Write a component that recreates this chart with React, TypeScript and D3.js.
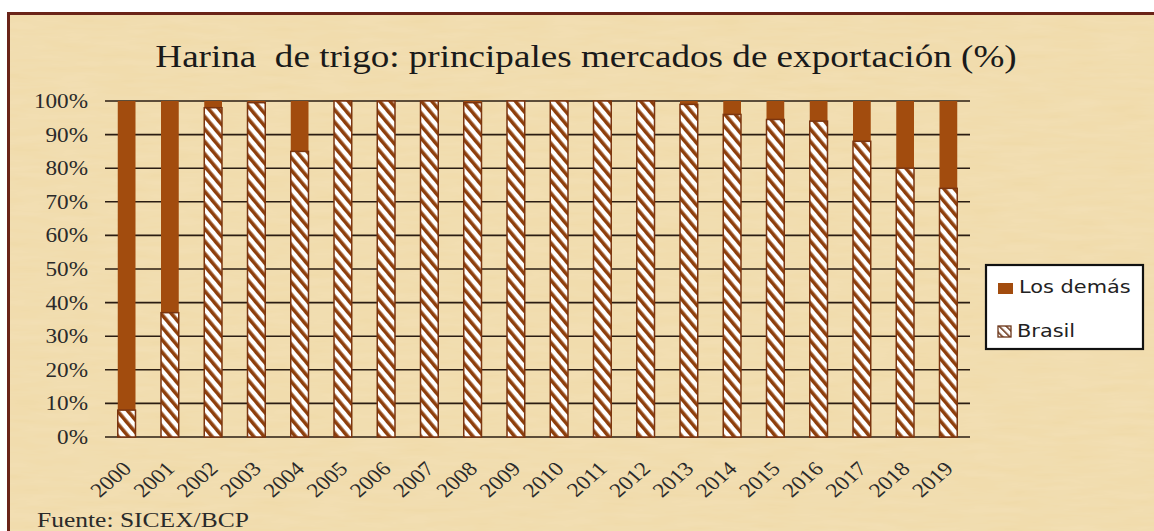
import React from 'react';
import * as d3 from 'd3';

const years = ['2000', '2001', '2002', '2003', '2004', '2005', '2006', '2007', '2008', '2009',
  '2010', '2011', '2012', '2013', '2014', '2015', '2016', '2017', '2018', '2019'];
// Brasil share of exports (%)
const brasil = [8, 37, 98, 99.5, 85, 100, 100, 100, 99.5, 100, 100, 100, 100, 99, 96, 94.5, 94, 88, 80, 74];
// remaining markets
const losDemas = brasil.map(v => 100 - v);
const yTicks = [0, 10, 20, 30, 40, 50, 60, 70, 80, 90, 100];

const W = 1154;
const H = 531;
const margin = { top: 101, right: 184, bottom: 94, left: 105 };
// the original picture is stretched sideways a little
const SX = 1.16;
const serif = "'Liberation Serif', 'Times New Roman', serif";
const sans = "'DejaVu Sans', Verdana, sans-serif";

const App: React.FC = () => {
  const x = d3.scaleBand<string>()
    .domain(years)
    .range([margin.left, W - margin.right])
    .paddingInner(0.59)
    .paddingOuter(0.295);

  const y = d3.scaleLinear()
    .domain([0, 100])
    .range([H - margin.bottom, margin.top]);

  return (
    <div style={{ position: 'fixed', left: 0, top: 0, width: W, height: H, background: '#fff' }}>
      <svg width={W} height={H} style={{ display: 'block' }}>
        <defs>
          <pattern id="hatch" width="8" height="8" patternUnits="userSpaceOnUse" patternTransform="rotate(-40)">
            <rect width="8" height="8" fill="#ffffff" />
            <rect width="3.6" height="8" fill="#8e3f0c" />
          </pattern>
          <pattern id="hatchLegend" width="5" height="5" patternUnits="userSpaceOnUse" patternTransform="rotate(-45)">
            <rect width="5" height="5" fill="#ffffff" />
            <rect width="1.6" height="5" fill="#6b3518" />
          </pattern>
          <filter id="paper" x="0" y="0" width="100%" height="100%">
            <feTurbulence type="fractalNoise" baseFrequency="0.02 0.15" numOctaves="3" seed="4" result="noise" />
            <feColorMatrix type="matrix" in="noise"
              values="0 0 0 0 0.93  0 0 0 0 0.82  0 0 0 0 0.6  0 0 0 0.35 0" result="tint" />
            <feComposite in="tint" in2="SourceGraphic" operator="over" />
          </filter>
        </defs>

        {/* background */}
        <rect x={8} y={13} width={W - 8} height={H - 13} fill="#f0daa8" filter="url(#paper)" />
        <line x1={8} x2={W} y1={13.5} y2={13.5} stroke="#6a2418" strokeWidth={3} />
        <line x1={8.5} x2={8.5} y1={12} y2={H} stroke="#6a2418" strokeWidth={3} />

        {/* title */}
        <text transform={`translate(586,67) scale(${SX},1)`} textAnchor="middle" fontFamily={serif}
          fontSize={32} fill="#1a1a1a" style={{ whiteSpace: 'pre' }}>
          {'Harina  de trigo: principales mercados de exportación (%)'}
        </text>

        {/* gridlines */}
        {yTicks.map(t => (
          <line key={t} x1={margin.left} x2={W - margin.right} y1={y(t)} y2={y(t)}
            stroke="#2a1c12" strokeWidth={1.6} />
        ))}

        {/* y labels */}
        {yTicks.map(t => (
          <text key={'l' + t} transform={`translate(88,${y(t) + 7}) scale(${SX},1)`} textAnchor="end"
            fontFamily={serif} fontSize={20} fill="#2a2a2a">
            {t}%
          </text>
        ))}

        {/* bars */}
        {years.map((yr, i) => (
          <g key={yr}>
            {losDemas[i] > 0 && (
              <rect x={x(yr)} y={y(100)} width={x.bandwidth()} height={y(brasil[i]) - y(100)}
                fill="#a24c0e" />
            )}
            <rect x={x(yr)} y={y(brasil[i])} width={x.bandwidth()} height={y(0) - y(brasil[i])}
              fill="url(#hatch)" stroke="#7a3510" strokeWidth={1.5} />
          </g>
        ))}

        {/* x labels */}
        {years.map(yr => {
          const cx = (x(yr) ?? 0) + x.bandwidth() / 2 + 6;
          const cy = y(0) + 33;
          return (
            <text key={'x' + yr} transform={`translate(${cx},${cy}) scale(${SX},1) rotate(-45)`}
              textAnchor="end" fontFamily={serif} fontSize={20} fill="#2a2a2a">
              {yr}
            </text>
          );
        })}

        {/* legend */}
        <g>
          <rect x={986} y={265} width={157} height={84} fill="#ffffff" stroke="#111" strokeWidth={2.2} />
          <rect x={998} y={283} width={15} height={11} fill="#a24c0e" />
          <text transform={`translate(1019,293) scale(${SX},1)`} fontFamily={sans} fontSize={18} fill="#222"
            letterSpacing={0}>
            Los demás
          </text>
          <rect x={998} y={326} width={13} height={11} fill="url(#hatchLegend)" stroke="#6b3518" strokeWidth={1.3} />
          <text transform={`translate(1017,337) scale(${SX},1)`} fontFamily={sans} fontSize={18} fill="#222"
            letterSpacing={0}>
            Brasil
          </text>
        </g>

        {/* source */}
        <text transform={`translate(37,527) scale(${SX},1)`} fontFamily={serif} fontSize={22} fill="#2a2a2a">
          Fuente: SICEX/BCP
        </text>
      </svg>
    </div>
  );
};

export default App;
